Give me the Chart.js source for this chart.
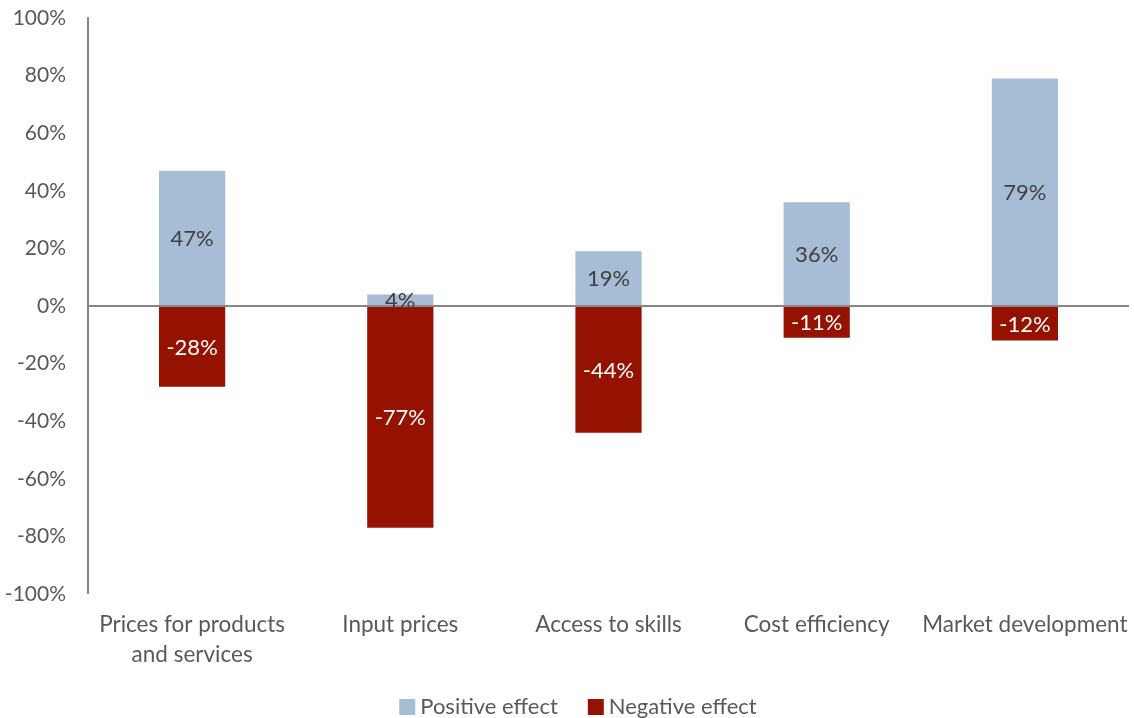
<!DOCTYPE html>
<html>
<head>
<meta charset="utf-8">
<script src="https://cdn.jsdelivr.net/npm/chart.js@4.4.1/dist/chart.umd.min.js"></script>
<style>
  html, body { margin: 0; padding: 0; background: #fff; }
  #wrap { width: 1134px; height: 718px; position: relative; }
</style>
</head>
<body>
<div id="wrap"><canvas id="c" width="1134" height="718"></canvas></div>
<script>
const categories = [["Prices for products", "and services"], "Input prices", "Access to skills", "Cost efficiency", "Market development"];
const positiveEffect = [47, 4, 19, 36, 79];
const negativeEffect = [-28, -77, -44, -11, -12];
const seriesNames = ["Positive effect", "Negative effect"];
const yTicks = [-100, -80, -60, -40, -20, 0, 20, 40, 60, 80, 100];

const FONT = "Lato, 'Open Sans', sans-serif";
const TEXT = "#595959";
const AXIS = "#868686";

const labelPlugin = {
  id: 'barLabels',
  afterDatasetsDraw(chart) {
    const ctx = chart.ctx;
    ctx.save();
    ctx.font = "22px " + FONT;
    ctx.textAlign = 'center';
    ctx.textBaseline = 'middle';
    chart.data.datasets.forEach((ds, di) => {
      const meta = chart.getDatasetMeta(di);
      meta.data.forEach((el, i) => {
        const p = el.getProps(['x', 'y', 'base'], true);
        const v = ds.data[i];
        ctx.fillStyle = v >= 0 ? '#404040' : '#ffffff';
        ctx.fillText(v + '%', p.x, (p.y + p.base) / 2 + 1);
      });
    });
    ctx.restore();
  },
  afterDraw(chart) {
    const ctx = chart.ctx;
    ctx.save();
    ctx.font = "22px " + FONT;
    ctx.textBaseline = 'middle';
    ctx.textAlign = 'left';
    const box = 16, gap = 5, itemGap = 30;
    const items = chart.data.datasets.map(ds => ({ label: ds.label, color: ds.backgroundColor, w: box + gap + ctx.measureText(ds.label).width }));
    const total = items.reduce((s, it) => s + it.w, 0) + itemGap * (items.length - 1);
    let x = 578 - total / 2;
    const cy = 707;
    items.forEach(it => {
      ctx.fillStyle = it.color;
      ctx.fillRect(x, cy - box / 2, box, box);
      ctx.fillStyle = TEXT;
      ctx.fillText(it.label, x + box + gap, cy);
      x += it.w + itemGap;
    });
    ctx.restore();
  }
};

new Chart(document.getElementById('c'), {
  type: 'bar',
  data: {
    labels: categories,
    datasets: [
      { label: seriesNames[0], data: positiveEffect, backgroundColor: '#A7BCD5', categoryPercentage: 1, barPercentage: 0.318 },
      { label: seriesNames[1], data: negativeEffect, backgroundColor: '#961200', categoryPercentage: 1, barPercentage: 0.318 }
    ]
  },
  options: {
    responsive: false,
    animation: false,
    devicePixelRatio: 1,
    layout: { padding: { top: 18, right: 5, left: 0, bottom: 0 } },
    plugins: {
      legend: { display: false },
      tooltip: { enabled: false }
    },
    scales: {
      x: {
        stacked: true,
        grid: { display: false, drawTicks: false },
        border: { display: false },
        ticks: { font: { family: FONT, size: 22.5, lineHeight: 1.36 }, color: TEXT, padding: 15, maxRotation: 0, autoSkip: false },
        afterFit(scale) { scale.height = 124; scale.paddingLeft = 0; scale.paddingRight = 0; scale.paddingTop = 0; scale.paddingBottom = 0; }
      },
      y: {
        stacked: true,
        min: -100, max: 100,
        z: 1,
        afterBuildTicks(scale) { scale.ticks = yTicks.map(v => ({ value: v })); },
        grid: {
          drawTicks: false,
          color: (c) => (c.tick && c.tick.value === 0) ? AXIS : 'rgba(0,0,0,0)',
          lineWidth: (c) => (c.tick && c.tick.value === 0) ? 2 : 0
        },
        border: { display: true, color: AXIS, width: 2 },
        ticks: { font: { family: FONT, size: 21 }, color: TEXT, padding: 22, callback: (v) => v + '%' },
        afterFit(scale) { scale.width = 88; scale.paddingTop = 0; scale.paddingBottom = 0; scale.paddingLeft = 0; scale.paddingRight = 0; }
      }
    }
  },
  plugins: [labelPlugin]
});
</script>
</body>
</html>
